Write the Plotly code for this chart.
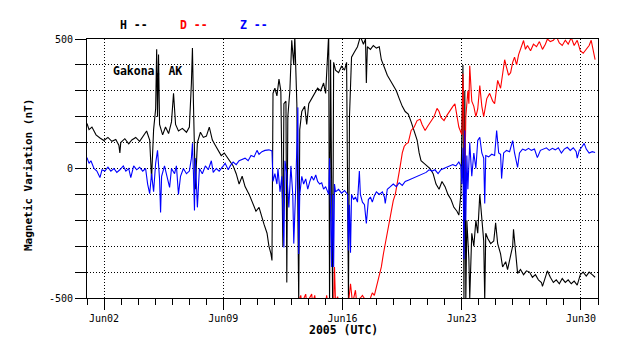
import pandas as pd
import plotly.graph_objects as go

# ---- data (days since 2005-06-01 00:00 UTC, nT) ----
h_days = [0.00,0.12,0.29,0.53,0.76,0.99,1.23,1.46,1.69,1.87,1.93,1.98,2.22,2.45,2.63,2.86,3.09,3.33,3.50,3.68,3.79,3.91,4.03,4.09,4.14,4.20,4.26,4.44,4.61,4.79,4.96,5.08,5.20,5.37,5.60,5.84,6.01,6.13,6.19,6.25,6.31,6.36,6.48,6.66,6.83,7.01,7.18,7.36,7.53,7.71,7.88,8.06,8.23,8.41,8.58,8.76,8.93,9.11,9.28,9.52,9.75,9.92,10.10,10.22,10.39,10.57,10.68,10.80,10.86,10.92,11.03,11.15,11.27,11.38,11.50,11.56,11.68,11.73,11.79,11.91,12.02,12.14,12.20,12.32,12.43,12.49,12.61,12.78,12.90,13.02,13.19,13.37,13.54,13.72,13.89,14.01,14.13,14.19,14.24,14.30,14.42,14.48,14.59,14.77,14.94,15.12,15.24,15.35,15.41,15.53,15.70,15.88,16.05,16.23,16.35,16.40,16.46,16.64,16.81,16.99,17.16,17.28,17.46,17.63,17.81,17.98,18.16,18.33,18.51,18.68,18.86,19.03,19.21,19.38,19.50,19.61,19.79,19.96,20.14,20.32,20.49,20.67,20.84,21.02,21.19,21.37,21.54,21.72,21.83,21.95,22.07,22.13,22.18,22.24,22.30,22.42,22.47,22.59,22.71,22.83,22.94,23.06,23.18,23.29,23.35,23.41,23.53,23.70,23.88,23.99,24.11,24.28,24.40,24.58,24.69,24.81,24.99,25.04,25.16,25.28,25.45,25.63,25.80,25.98,26.15,26.33,26.50,26.68,26.74,26.91,27.03,27.20,27.38,27.55,27.73,27.90,28.08,28.25,28.43,28.60,28.78,28.96,29.13,29.31,29.48,29.66,29.83]
h_vals = [174,150,160,130,118,108,120,105,112,90,60,100,115,95,110,120,105,130,145,110,-40,150,230,460,200,440,170,130,160,135,180,290,170,145,155,140,160,330,465,250,120,-80,100,140,120,125,160,110,90,70,50,60,45,25,10,-20,-60,-30,-70,-100,-140,-165,-150,-180,-215,-250,-300,-330,-355,290,310,280,345,300,-300,250,260,-440,200,300,495,400,510,250,-520,150,220,240,170,250,270,290,310,300,330,290,420,520,-520,420,-510,410,380,370,395,380,410,-510,200,430,450,470,510,480,500,330,470,460,475,465,470,420,390,360,340,320,300,270,240,220,210,180,140,110,60,30,20,10,0,-20,-60,-80,-50,-70,-100,-120,-150,-165,-180,-100,400,-510,300,-510,-200,-350,-500,-250,-300,-200,-250,-100,-200,-280,-510,-250,-270,-290,-280,-210,-290,-330,-380,-360,-390,-350,-300,-235,-330,-405,-390,-410,-395,-400,-420,-410,-430,-440,-455,-420,-395,-420,-440,-430,-445,-425,-440,-430,-445,-435,-450,-410,-400,-415,-400,-410,-420]

d_days = [12.14,12.43,12.55,12.61,12.84,12.90,13.19,13.25,13.37,13.43,14.01,14.07,14.13,14.48,14.53,14.59,14.71,14.83,15.35,15.47,15.59,15.70,15.76,15.82,16.05,16.17,16.29,16.46,16.64,16.75,16.87,16.99,17.10,17.28,17.40,17.51,17.63,17.69,17.81,17.98,18.10,18.16,18.27,18.39,18.51,18.62,18.74,18.86,19.03,19.21,19.38,19.56,19.67,19.85,20.02,20.20,20.37,20.55,20.67,20.78,20.96,21.13,21.31,21.48,21.60,21.72,21.83,21.95,22.01,22.07,22.13,22.18,22.24,22.36,22.42,22.47,22.59,22.71,22.83,22.94,23.06,23.18,23.29,23.35,23.47,23.64,23.82,23.93,24.11,24.28,24.40,24.52,24.63,24.75,24.87,24.99,25.10,25.22,25.34,25.51,25.63,25.74,25.86,26.04,26.21,26.39,26.56,26.74,26.91,27.03,27.20,27.38,27.55,27.73,27.90,28.08,28.25,28.43,28.60,28.78,28.96,29.13,29.31,29.48,29.60,29.72,29.83]
d_vals = [-530,-510,-490,-520,-485,-520,-485,-520,-490,-520,-520,-490,-520,-520,-380,-520,-495,-520,-520,-445,-520,-490,-470,-510,-500,-490,-505,-520,-500,-480,-490,-460,-433,-380,-330,-290,-250,-225,-170,-124,-100,-73,-30,10,60,85,95,100,147,160,185,190,170,147,165,185,200,232,220,197,185,205,225,240,250,200,160,140,130,366,100,-46,200,300,250,397,260,240,200,230,320,240,200,220,270,290,260,250,340,310,370,420,390,360,370,410,430,400,440,470,494,460,475,455,480,470,490,460,480,500,490,495,510,485,475,495,480,505,475,495,455,445,460,475,495,450,420]

z_days = [0.00,0.12,0.23,0.41,0.58,0.76,0.88,1.05,1.23,1.40,1.58,1.75,1.93,2.13,2.28,2.45,2.57,2.74,2.92,3.09,3.27,3.44,3.56,3.68,3.79,3.91,4.03,4.14,4.26,4.32,4.38,4.55,4.73,4.85,4.96,5.14,5.25,5.37,5.49,5.66,5.84,6.01,6.13,6.19,6.25,6.31,6.36,6.48,6.60,6.77,6.95,7.12,7.30,7.41,7.59,7.76,7.94,8.11,8.29,8.41,8.58,8.76,8.93,9.11,9.28,9.46,9.63,9.81,9.98,10.10,10.27,10.45,10.68,10.86,10.92,11.03,11.15,11.21,11.33,11.44,11.56,11.62,11.73,11.85,11.97,12.08,12.14,12.26,12.38,12.43,12.49,12.61,12.72,12.84,12.96,13.08,13.19,13.31,13.43,13.54,13.66,13.78,13.89,14.01,14.13,14.19,14.24,14.30,14.36,14.42,14.48,14.53,14.59,14.77,14.94,15.12,15.30,15.35,15.41,15.47,15.53,15.65,15.76,15.88,15.99,16.05,16.17,16.29,16.40,16.52,16.64,16.75,16.87,16.99,17.16,17.34,17.46,17.51,17.63,17.81,17.98,18.16,18.33,18.51,18.68,18.86,19.03,19.21,19.38,19.56,19.73,19.91,20.08,20.26,20.43,20.61,20.78,20.96,21.13,21.31,21.48,21.66,21.83,21.95,22.01,22.07,22.13,22.18,22.24,22.30,22.36,22.47,22.59,22.71,22.83,22.94,23.06,23.18,23.29,23.35,23.41,23.58,23.76,23.93,24.05,24.17,24.28,24.34,24.46,24.63,24.81,24.99,25.10,25.28,25.39,25.57,25.74,25.92,26.09,26.27,26.44,26.62,26.79,26.97,27.14,27.32,27.49,27.67,27.85,28.02,28.20,28.37,28.55,28.72,28.78,28.90,29.07,29.19,29.31,29.48,29.66,29.83]
z_vals = [42,20,30,0,-10,-35,-5,-10,5,-10,0,-15,-5,10,-10,0,-35,10,-5,5,-10,0,-60,-97,-20,-90,20,70,-40,-170,-30,10,-40,-73,0,-20,10,-100,-30,0,-20,-10,40,97,-20,-162,40,-150,0,-20,10,-5,30,-15,0,-10,5,20,-5,10,25,15,30,35,40,30,50,45,70,55,65,70,72,68,-50,-20,-60,0,-90,-30,-305,30,-20,-150,10,-100,-290,-60,236,-330,-100,-30,-60,-40,-80,-50,-30,-45,-25,-50,-60,-55,-80,-70,-90,-100,40,-200,-380,-100,-380,-60,-90,-80,-95,-85,-100,-317,-140,-325,-100,-120,-110,-130,-10,-100,-130,-140,-212,-120,-110,-130,-105,-90,-100,-90,-110,-135,-80,-70,-60,-70,-55,-65,-50,-45,-40,-35,-30,-25,-20,-15,-5,-10,-5,-20,-5,0,5,10,15,10,25,10,-60,80,-350,147,-200,50,-80,100,-30,60,0,108,120,60,40,-135,50,45,55,50,147,60,55,-39,60,70,65,108,60,4,60,75,70,78,70,75,42,70,75,80,70,78,72,80,60,75,82,70,80,65,40,70,85,97,75,60,65,62]

series_names = ["H", "D", "Z"]
series_colors = ["black", "red", "blue"]
y_tick_vals = [-500, -400, -300, -200, -100, 0, 100, 200, 300, 400, 500]
y_tick_text = ["-500", "", "", "", "", "0", "", "", "", "", "500"]
x_range = ["2005-06-01", "2005-07-01"]
station = "Gakona, AK"
x_title = "2005 (UTC)"
y_title = "Magnetic Variation (nT)"

t0 = pd.Timestamp("2005-06-01")
def to_time(days):
    return [t0 + pd.Timedelta(days=d) for d in days]

MONO = "DejaVu Sans Mono"
fig = go.Figure()
for name, days, vals, col in zip(series_names, [h_days, d_days, z_days],
                                  [h_vals, d_vals, z_vals], series_colors):
    fig.add_trace(go.Scatter(x=to_time(days), y=vals, mode="lines", name=name,
                             line=dict(color=col, width=1.1), showlegend=False))

# page body has an 8px margin; figure sized so the plot area lands at x 87-598, y 39-298
fig.update_layout(
    width=630, height=351,
    margin=dict(l=79, r=40, t=31, b=61),
    paper_bgcolor="white", plot_bgcolor="white",
    font=dict(family=MONO, size=10, color="black"),
)
fig.update_xaxes(
    type="date", range=x_range,
    tick0="2005-06-02", dtick=7 * 86400000, tickformat="%b%d",
    ticks="outside", ticklen=11, tickcolor="black", tickwidth=1,
    showgrid=True, gridcolor="black", griddash="1px,2px", gridwidth=1,
    minor=dict(dtick=86400000, tick0="2005-06-01", ticks="outside", ticklen=6,
               tickcolor="black", showgrid=False),
    showline=True, linecolor="black", linewidth=1, mirror=True,
    tickfont=dict(family=MONO, size=10), zeroline=False,
)
fig.update_yaxes(
    range=[-500, 500], tickvals=y_tick_vals, ticktext=y_tick_text,
    ticks="outside", ticklen=11, tickcolor="black",
    showgrid=True, gridcolor="black", griddash="1px,2px", gridwidth=1,
    showline=True, linecolor="black", linewidth=1, mirror=True,
    zeroline=False, tickfont=dict(family=MONO, size=10),
)

def px(xp):
    return (xp - 87) / 511

def py(yp):
    return (298 - yp) / 259

# legend-like labels at top
for i, (name, col) in enumerate(zip(series_names, series_colors)):
    fig.add_annotation(text=f"<b>{name} --</b>", xref="paper", yref="paper",
                       x=px(118 + 60 * i), y=py(24.5),
                       xanchor="left", yanchor="middle", showarrow=False,
                       font=dict(family=MONO, size=11.5, color=col))

fig.add_annotation(text=f"<b>{station}</b>", xref="paper", yref="paper",
                   x=px(111), y=py(71.5), xanchor="left",
                   yanchor="middle", showarrow=False,
                   font=dict(family=MONO, size=11.5, color="black"))
fig.add_annotation(text=f"<b>{x_title}</b>", xref="paper", yref="paper",
                   x=px(343), y=py(330), xanchor="center", yanchor="middle",
                   showarrow=False, font=dict(family=MONO, size=11.5, color="black"))
fig.add_annotation(text=f"<b>{y_title}</b>", xref="paper", yref="paper",
                   x=px(28), y=py(175), xanchor="center",
                   yanchor="middle", textangle=-90, showarrow=False,
                   font=dict(family=MONO, size=11, color="black"))

fig.write_html("out.html")
